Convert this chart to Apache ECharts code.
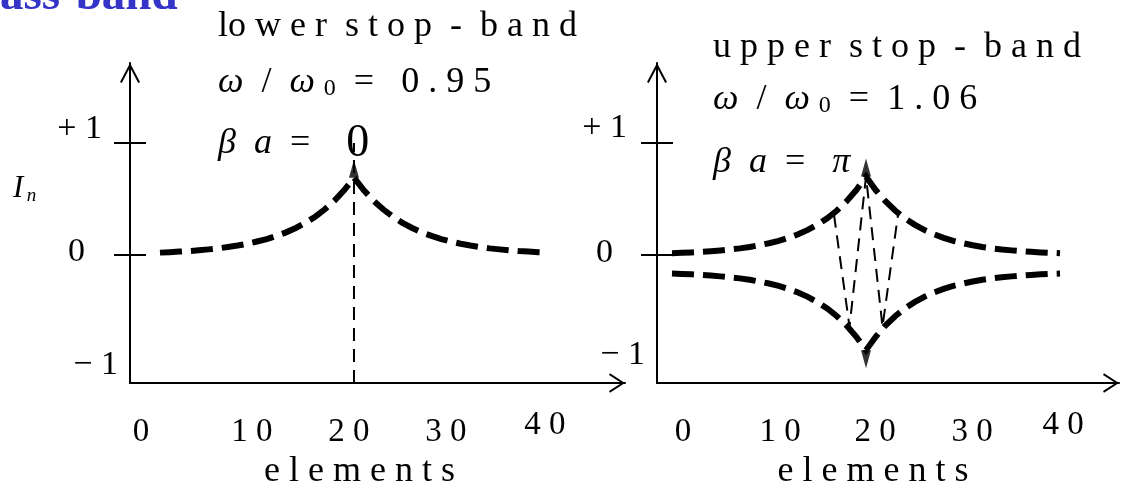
<!DOCTYPE html>
<html>
<head>
<meta charset="utf-8">
<script src="https://cdn.jsdelivr.net/npm/echarts@6/dist/echarts.min.js"></script>
<style>
  html, body { margin: 0; padding: 0; background: #fff; }
  #chart { width: 1126px; height: 491px; }
</style>
</head>
<body>
<div id="chart"></div>
<script>
// ---- data ---------------------------------------------------------------
// element index n along the chain (driven element at n = 20)
const elementIdx = [0,1,2,3,4,5,6,7,8,9,10,11,12,13,14,15,16,17,18,19,20,
                    21,22,23,24,25,26,27,28,29,30,31,32,33,34,35,36,37,38,39,40];

// lower stop-band (w/w0 = 0.95, beta*a = 0): monotone decay away from the centre
const lowerStopCurrent = [0.021,0.025,0.030,0.035,0.042,0.050,0.059,0.071,0.084,0.100,
                          0.120,0.142,0.170,0.202,0.241,0.287,0.342,0.408,0.486,0.579,
                          0.690,
                          0.579,0.486,0.408,0.342,0.287,0.241,0.202,0.170,0.142,0.120,
                          0.100,0.084,0.071,0.059,0.050,0.042,0.035,0.030,0.025,0.021];

// upper stop-band (w/w0 = 1.06, beta*a = pi): envelopes of the alternating current
const upperStopHigh = [0.016,0.019,0.023,0.028,0.034,0.041,0.049,0.059,0.071,0.087,
                       0.105,0.126,0.153,0.185,0.224,0.271,0.328,0.397,0.480,0.580,
                       0.700,
                       0.580,0.480,0.397,0.328,0.271,0.224,0.185,0.153,0.126,0.105,
                       0.087,0.071,0.059,0.049,0.041,0.034,0.028,0.023,0.019,0.016];
const upperStopLow = [-0.166,-0.169,-0.173,-0.178,-0.184,-0.191,-0.199,-0.209,-0.221,-0.237,
                      -0.255,-0.276,-0.303,-0.335,-0.374,-0.421,-0.478,-0.547,-0.630,-0.730,
                      -0.850,
                      -0.730,-0.630,-0.547,-0.478,-0.421,-0.374,-0.335,-0.303,-0.276,-0.255,
                      -0.237,-0.221,-0.209,-0.199,-0.191,-0.184,-0.178,-0.173,-0.169,-0.166];

// sign-alternating currents near the centre (zig-zag between the envelopes)
const alternatingIdx = [16.7, 18.3, 20, 21.7, 23.3];
const alternatingCurrent = [0.36, -0.64, 0.70, -0.64, 0.36];

// centre marker of the lower stop-band panel
const centreElement = 20;
const centreMarkerTop = 1.0;

// axes
const xTickValues = [0, 10, 20, 30, 40];
const yTickValues = [1, 0, -1];
const yTickLabels = ['+ 1', '0', '\u2212 1'];
const yMarkValues = [0, 1];
const Y_MIN = -1.143, Y_MAX = 1.714;
const xRangeLower = [-3.09, 47.94];
const xRangeUpper = [-1.546, 46.08];

// ---- styling helpers ----------------------------------------------------
const SERIF = '"Liberation Serif", "Times New Roman", serif';
const INK = '#000';
const ARROW_Y = 'path://M10,0 L20,19 L18.2,20 L10,4.2 L1.8,20 L0,19 Z';
const ARROW_X = 'path://M10,0 L20,15.4 L18.2,16.4 L10,3.6 L1.8,16.4 L0,15.4 Z';

const spaced = v => String(v).split('').join(' ');

// x tick labels: [horizontal shift, downward shift] per label
function xLabelRich(shifts) {
  const rich = {};
  shifts.forEach(([dx, down], i) => {
    rich['t' + i] = {
      fontFamily: SERIF, fontSize: 33, color: INK,
      padding: [down, dx < 0 ? -2 * dx : 0, 0, dx > 0 ? 2 * dx : 0]
    };
  });
  return rich;
}
// y tick labels: [extra gap to the axis, upward shift, font size]
function yLabelRich(shifts) {
  const rich = {};
  shifts.forEach(([gap, up, size], i) => {
    rich['y' + i] = {
      fontFamily: SERIF, fontSize: size, color: INK,
      padding: [up < 0 ? -2 * up : 0, gap, up > 0 ? 2 * up : 0, 0]
    };
  });
  return rich;
}

function xAxisFor(gridIndex, range, shifts, namePad) {
  return {
    type: 'value', gridIndex, min: range[0], max: range[1],
    axisLine: {
      show: true, onZero: false,
      symbol: ['none', ARROW_X], symbolSize: [20, 16], symbolOffset: [0, -8],
      lineStyle: { color: INK, width: 2 }
    },
    axisTick: { show: false },
    splitLine: { show: false },
    axisLabel: {
      show: true, margin: 26,
      customValues: xTickValues,
      formatter: v => '{t' + xTickValues.indexOf(v) + '|' + spaced(v) + '}',
      rich: xLabelRich(shifts)
    },
    name: 'e l e m e n t s', nameLocation: 'middle', nameGap: 64,
    nameTextStyle: { fontFamily: SERIF, fontSize: 36, color: INK, padding: namePad }
  };
}

function yAxesFor(gridIndex, shifts) {
  return [{
    type: 'value', gridIndex, min: Y_MIN, max: Y_MAX, position: 'left',
    axisLine: {
      show: true, onZero: false,
      symbol: ['none', ARROW_Y], symbolSize: [20, 20], symbolOffset: [0, -10],
      lineStyle: { color: INK, width: 2 }
    },
    axisTick: { show: true, inside: false, length: 16, customValues: yMarkValues,
                lineStyle: { color: INK, width: 2 } },
    splitLine: { show: false },
    axisLabel: {
      show: true, margin: 12,
      customValues: yTickValues,
      formatter: v => {
        const i = yTickValues.indexOf(v);
        return '{y' + i + '|' + yTickLabels[i] + '}';
      },
      rich: yLabelRich(shifts)
    }
  }, {
    // inner half of the crossing tick marks
    type: 'value', gridIndex, min: Y_MIN, max: Y_MAX, position: 'left', offset: 0,
    axisLine: { show: false, onZero: false },
    axisTick: { show: true, inside: true, length: 16, customValues: yMarkValues,
                lineStyle: { color: INK, width: 2 } },
    axisLabel: { show: false },
    splitLine: { show: false }
  }];
}

const pairs = (xs, ys) => xs.map((x, i) => [x, ys[i]]);

const thickDash = { color: INK, width: 6, type: [22, 9], cap: 'butt', join: 'miter' };
const thinDash = { color: INK, width: 2, type: [13, 8], cap: 'butt' };

function curve(xi, yi, data, lineStyle, z) {
  return {
    type: 'line', xAxisIndex: xi, yAxisIndex: yi, data,
    showSymbol: false, symbol: 'none', lineStyle, z: z || 3, silent: true
  };
}
function cusp(xi, yi, point, pointsUp) {
  return {
    type: 'scatter', xAxisIndex: xi, yAxisIndex: yi, data: [point],
    symbol: 'triangle', symbolSize: [10, 18], symbolRotate: pointsUp ? 0 : 180,
    symbolOffset: [0, pointsUp ? -9 : 9],
    itemStyle: { color: INK }, silent: true, z: 4
  };
}

// ---- annotations --------------------------------------------------------
function label(x, y, text, rich, size) {
  return {
    type: 'text', x, y, silent: true,
    style: {
      text, rich: rich || {}, fill: INK,
      font: (size || 36) + 'px ' + SERIF,
      align: 'left', verticalAlign: 'middle'
    }
  };
}
const mathRich = {
  i: { fontFamily: SERIF, fontSize: 36, fontStyle: 'italic', fill: INK },
  s: { fontFamily: SERIF, fontSize: 24, fill: INK, verticalAlign: 'bottom' },
  big: { fontFamily: SERIF, fontSize: 46, fill: INK }
};

const graphics = [
  { type: 'text', x: 0, y: -3, silent: true,
    style: { text: 'ass-band', fill: '#3434c8', align: 'left', verticalAlign: 'middle',
             font: 'bold 47px ' + SERIF } },
  label(218, 27, 'lo w e r  s t o p  -  b a n d'),
  label(218, 83, '{i|\u03c9}  /  {i|\u03c9} {s|0}  =   0 . 9 5', mathRich),
  label(218, 144, '{i|\u03b2}  {i|a}  =    {big|0}', mathRich),
  label(713, 48, 'u p p e r  s t o p  -  b a n d'),
  label(713, 100, '{i|\u03c9}  /  {i|\u03c9} {s|0}  =  1 . 0 6', mathRich),
  label(713, 163, '{i|\u03b2}  {i|a}  =   {i|\u03c0}', mathRich),
  { type: 'text', x: 13, y: 189, silent: true,
    style: { text: '{I|I} {n|n}', align: 'left', verticalAlign: 'middle', fill: INK,
             rich: {
               I: { fontFamily: SERIF, fontSize: 31, fontStyle: 'italic', fill: INK },
               n: { fontFamily: SERIF, fontSize: 19, fontStyle: 'italic', fill: INK,
                    verticalAlign: 'bottom', padding: [14, 0, 0, 0] }
             } } }
];

// ---- chart --------------------------------------------------------------
const chart = echarts.init(document.getElementById('chart'), null, { renderer: 'canvas' });
chart.setOption({
  backgroundColor: '#fff',
  animation: false,
  tooltip: { show: false },
  grid: [
    { left: 130, top: 63, width: 495, height: 320, outerBoundsMode: 'none' },
    { left: 657, top: 63, width: 462, height: 320, outerBoundsMode: 'none' }
  ],
  xAxis: [
    xAxisFor(0, xRangeLower,
      [[-19, 7], [-5, 7], [-5, 7], [-5, 7], [-3, 0]], [0, 36, 0, 0]),
    xAxisFor(1, xRangeUpper,
      [[11, 7], [11, 7], [9, 7], [9, 7], [3, 0]], [0, 30, 0, 0])
  ],
  yAxis: [
    ...yAxesFor(0, [[16, 14, 34], [33, 2.5, 34], [0, 2, 34]]),
    ...yAxesFor(1, [[18, 15, 34], [32, 2, 34], [0, 12, 34]])
  ],
  series: [
    // lower stop-band panel
    curve(0, 0, [[centreElement, Y_MIN], [centreElement, centreMarkerTop]], thinDash, 2),
    curve(0, 0, pairs(elementIdx, lowerStopCurrent), thickDash),
    cusp(0, 0, [centreElement, lowerStopCurrent[elementIdx.indexOf(centreElement)]], true),
    // upper stop-band panel
    curve(1, 2, pairs(alternatingIdx, alternatingCurrent), thinDash, 2),
    curve(1, 2, pairs(elementIdx, upperStopHigh), thickDash),
    curve(1, 2, pairs(elementIdx, upperStopLow), thickDash),
    cusp(1, 2, [centreElement, upperStopHigh[elementIdx.indexOf(centreElement)]], true),
    cusp(1, 2, [centreElement, upperStopLow[elementIdx.indexOf(centreElement)]], false)
  ],
  graphic: graphics
});
</script>
</body>
</html>
